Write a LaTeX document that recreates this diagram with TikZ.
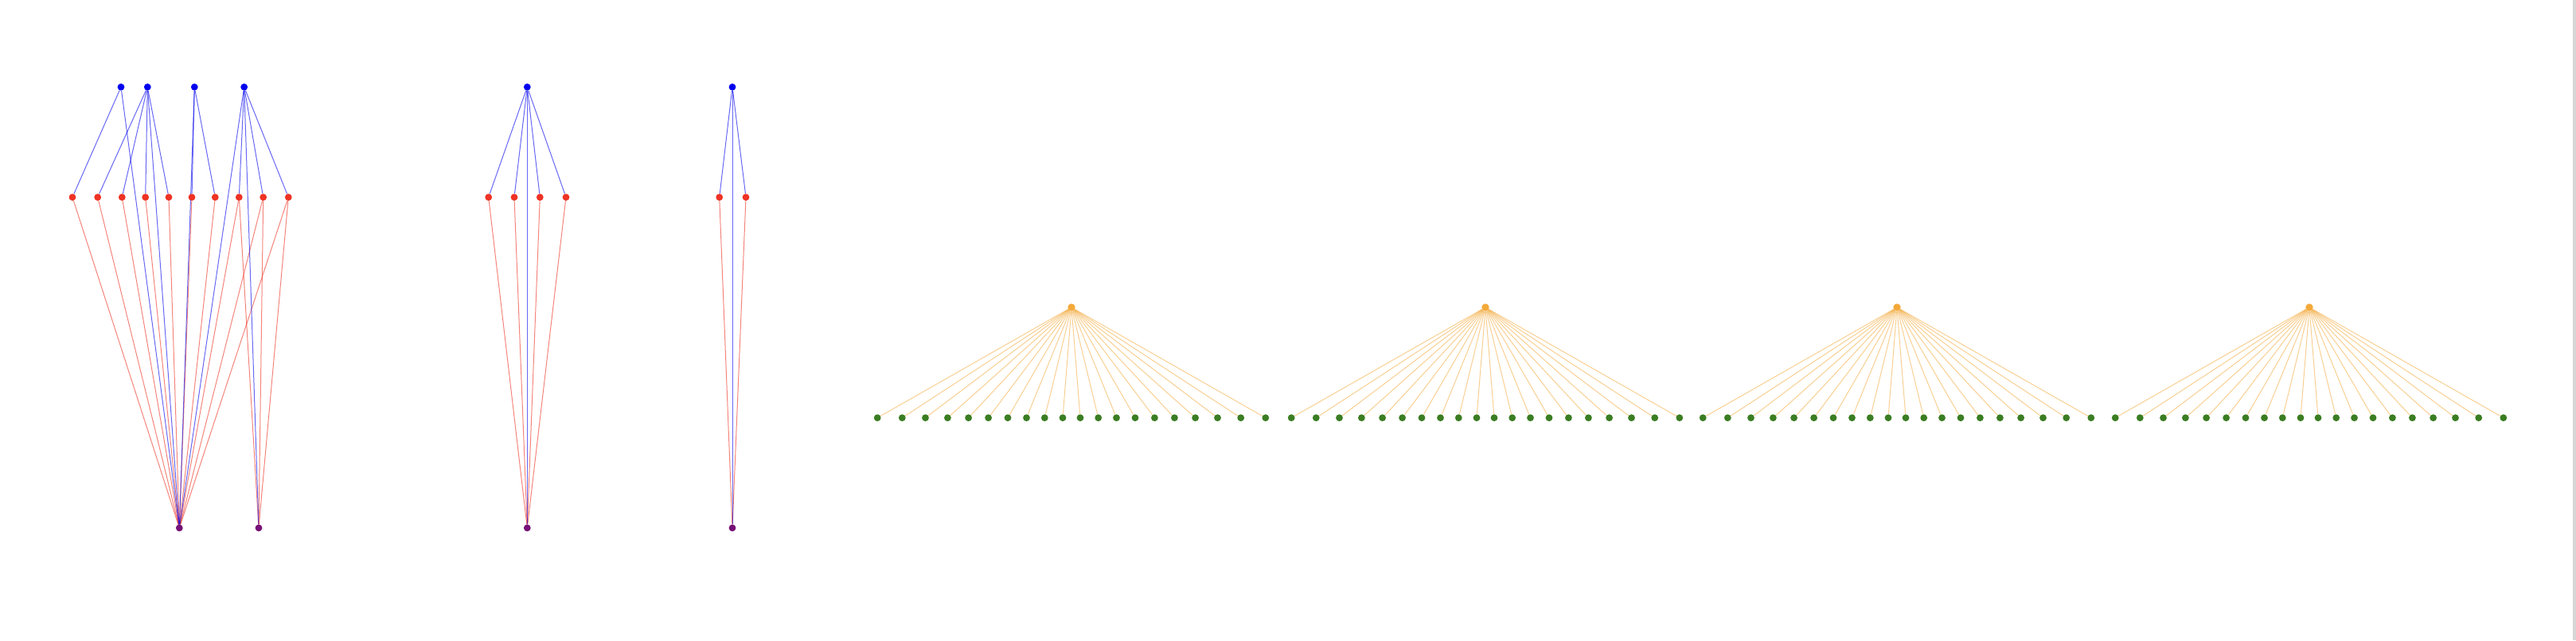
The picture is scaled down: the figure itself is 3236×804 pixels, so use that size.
\documentclass[tikz,border=0pt]{standalone}
\pgfdeclarelayer{back}
\pgfdeclarelayer{bg}
\pgfsetlayers{back,bg,main}
\definecolor{nblue}{RGB}{0,0,238}
\definecolor{nred}{RGB}{238,51,36}
\definecolor{npurple}{RGB}{119,17,119}
\definecolor{norange}{RGB}{244,169,58}
\definecolor{ngreen}{RGB}{58,125,34}
\definecolor{barclr}{RGB}{214,214,214}
\tikzset{
  dotnode/.style={circle, inner sep=0pt, minimum size=8.8pt, draw=none},
  bnode/.style={dotnode, fill=nblue},
  rnode/.style={dotnode, fill=nred},
  pnode/.style={dotnode, fill=npurple},
  onode/.style={dotnode, fill=norange, minimum size=9.4pt},
  gnode/.style={dotnode, fill=ngreen},
  bedge/.style={draw=nblue, draw opacity=0.6, line width=1pt},
  redge/.style={draw=nred, draw opacity=0.6, line width=1pt},
  oedge/.style={draw=norange, draw opacity=0.55, line width=1pt},
}
\begin{document}
\begin{tikzpicture}[x=1pt,y=-1pt]
\useasboundingbox (0,0) rectangle (3236,804);
\begin{pgfonlayer}{back}
\fill[white] (0,0) rectangle (3236,804);
\fill[barclr] (3231.5,0) rectangle (3236,804);
\end{pgfonlayer}

% ---------- left group ----------
\foreach \i/\x in {1/152,2/185.3,3/244.3,4/306.7}
  \node[bnode] (a-b\i) at (\x,109.3) {};
\foreach \i/\x in {1/91,2/122.7,3/153.3,4/182.7,5/212,6/241,7/270.3,8/300.3,9/330.7,10/362.3}
  \node[rnode] (a-r\i) at (\x,247.7) {};
\node[pnode] (a-p1) at (225.3,663) {};
\node[pnode] (a-p2) at (325,663) {};
\begin{pgfonlayer}{bg}
  \foreach \i in {1,...,10} \draw[redge] (a-r\i) -- (a-p1);
  \foreach \i in {8,9,10} \draw[redge] (a-r\i) -- (a-p2);
  \foreach \s/\t in {b1/r1,b1/p1,b2/r2,b2/r3,b2/r4,b2/r5,b2/p1,b3/r6,b3/r7,b3/p1,b4/p1,b4/r8,b4/p2,b4/r9,b4/r10}
    \draw[bedge] (a-\s) -- (a-\t);
\end{pgfonlayer}

% ---------- middle group ----------
\node[bnode] (m-b) at (662.3,109.3) {};
\foreach \i/\x in {1/613.7,2/646,3/678.3,4/711}
  \node[rnode] (m-r\i) at (\x,247.7) {};
\node[pnode] (m-p) at (662.3,663) {};
\begin{pgfonlayer}{bg}
  \foreach \i in {1,...,4} {
    \draw[bedge] (m-b) -- (m-r\i);
    \draw[redge] (m-r\i) -- (m-p);
  }
  \draw[bedge] (m-b) -- (m-p);
\end{pgfonlayer}

% ---------- right small group ----------
\node[bnode] (c-b) at (920,109.3) {};
\node[rnode] (c-r1) at (903.7,247.7) {};
\node[rnode] (c-r2) at (937,247.7) {};
\node[pnode] (c-p) at (920,663) {};
\begin{pgfonlayer}{bg}
  \foreach \i in {1,2} {
    \draw[bedge] (c-b) -- (c-r\i);
    \draw[redge] (c-r\i) -- (c-p);
  }
  \draw[bedge] (c-b) -- (c-p);
\end{pgfonlayer}

% ---------- star groups ----------
\foreach \g/\cx in {1/1346,2/1866,3/2383,4/2901} {
  \node[onode] (o\g) at (\cx,386) {};
  \foreach \i/\d in {1/-243.8,2/-212.7,3/-183.5,4/-155.6,5/-129.4,6/-104.4,7/-80,8/-56.5,9/-33.7,10/-11,
                     11/11,12/33.7,13/56.5,14/80,15/104.4,16/129.4,17/155.6,18/183.5,19/212.7,20/243.8} {
    \pgfmathsetmacro\xx{\cx+(\d)}
    \node[gnode] (g\g-\i) at (\xx,524.7) {};
    \begin{pgfonlayer}{bg}
      \draw[oedge] (o\g) -- (g\g-\i);
    \end{pgfonlayer}
  }
}
\end{tikzpicture}
\end{document}
